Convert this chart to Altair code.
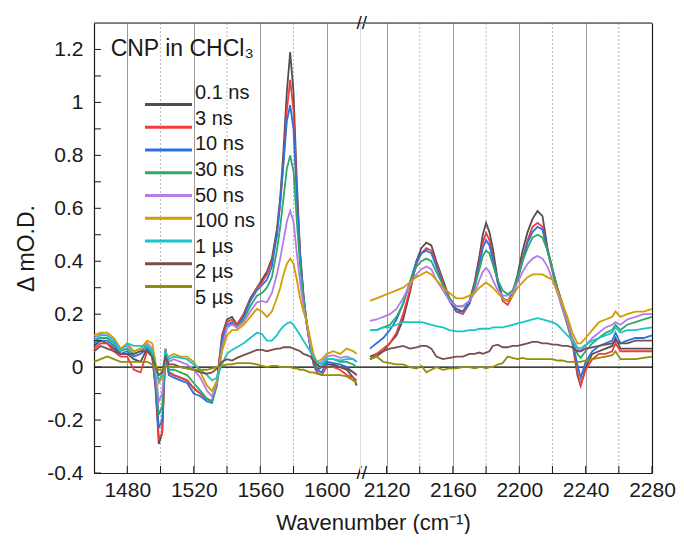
import altair as alt
import pandas as pd

FONT = "Liberation Sans"

SERIES = ["0.1 ns", "3 ns", "10 ns", "30 ns", "50 ns", "100 ns", "1 µs", "2 µs", "5 µs"]
COLORS = ["#505050", "#f03c3c", "#2a72e0", "#2ea866", "#b57be8", "#d39d00", "#17c7c7", "#7b4e4e", "#8f8f0a"]

# ---------------- left panel (1460-1620 cm-1) ----------------
WN_LEFT = [1460, 1464, 1468, 1472, 1476, 1480, 1484, 1488, 1492, 1495,
           1497, 1499, 1501, 1503, 1505, 1508, 1512, 1516, 1520, 1524,
           1528, 1531, 1534, 1537, 1540, 1543, 1546, 1550, 1554, 1558,
           1561, 1564, 1567, 1570, 1572, 1574, 1576, 1578, 1580, 1582,
           1584, 1586, 1588, 1590, 1592, 1594, 1597, 1600, 1604, 1608,
           1612, 1616, 1618]

L_01NS = [0.08, 0.10, 0.09, 0.07, 0.05, 0.05, 0.03, 0.02, 0.07, 0.04,
          -0.08, -0.29, -0.25, 0.07, -0.02, -0.03, -0.04, -0.05, -0.08, -0.10,
          -0.12, -0.13, -0.05, 0.12, 0.18, 0.19, 0.16, 0.20, 0.26, 0.30,
          0.33, 0.36, 0.41, 0.52, 0.64, 0.82, 1.04, 1.19, 1.04, 0.70,
          0.43, 0.27, 0.16, 0.08, 0.02, -0.01, 0.0, 0.01, 0.01, 0.0,
          -0.01, -0.04, -0.07]
L_3NS = [0.07, 0.09, 0.09, 0.06, 0.04, 0.04, -0.01, -0.02, 0.06, 0.04,
         -0.06, -0.27, -0.25, 0.06, -0.02, -0.03, -0.04, -0.05, -0.08, -0.10,
         -0.12, -0.13, -0.05, 0.11, 0.17, 0.18, 0.16, 0.20, 0.25, 0.30,
         0.32, 0.35, 0.40, 0.50, 0.62, 0.78, 0.97, 1.085, 0.97, 0.66,
         0.42, 0.27, 0.16, 0.08, 0.01, -0.02, -0.03, 0.0, 0.0, -0.01,
         -0.03, -0.04, -0.05]
L_10NS = [0.09, 0.10, 0.10, 0.08, 0.05, 0.06, 0.04, 0.05, 0.07, 0.05,
          -0.06, -0.23, -0.20, 0.05, -0.03, -0.04, -0.05, -0.06, -0.10, -0.11,
          -0.13, -0.135, -0.06, 0.10, 0.16, 0.17, 0.15, 0.19, 0.25, 0.29,
          0.31, 0.33, 0.38, 0.50, 0.62, 0.77, 0.93, 0.99, 0.90, 0.64,
          0.42, 0.27, 0.16, 0.08, 0.02, -0.01, -0.02, 0.02, 0.015, 0.01,
          0.0, -0.02, -0.03]
L_30NS = [0.10, 0.11, 0.11, 0.09, 0.06, 0.07, 0.05, 0.06, 0.08, 0.05,
          -0.04, -0.18, -0.15, 0.06, -0.01, -0.01, -0.02, -0.03, -0.06, -0.09,
          -0.12, -0.13, -0.07, 0.08, 0.15, 0.165, 0.15, 0.18, 0.23, 0.27,
          0.28, 0.30, 0.34, 0.44, 0.53, 0.64, 0.75, 0.80, 0.74, 0.55,
          0.38, 0.26, 0.17, 0.09, 0.03, 0.0, 0.0, 0.03, 0.03, 0.02,
          0.02, 0.01, 0.0]
L_50NS = [0.11, 0.125, 0.12, 0.10, 0.07, 0.08, 0.06, 0.07, 0.09, 0.07,
          -0.02, -0.13, -0.10, 0.06, 0.02, 0.03, 0.02, 0.01, -0.01, -0.04,
          -0.09, -0.11, -0.06, 0.07, 0.15, 0.16, 0.15, 0.17, 0.21, 0.245,
          0.25, 0.245, 0.28, 0.35, 0.41, 0.48, 0.55, 0.59, 0.55, 0.43,
          0.32, 0.23, 0.16, 0.09, 0.04, 0.01, 0.02, 0.04, 0.045, 0.035,
          0.04, 0.03, 0.02]
L_100NS = [0.12, 0.13, 0.13, 0.11, 0.07, 0.09, 0.06, 0.07, 0.10, 0.09,
           0.02, -0.06, -0.04, 0.03, 0.04, 0.05, 0.04, 0.04, 0.02, -0.02,
           -0.07, -0.09, -0.05, 0.06, 0.12, 0.14, 0.14, 0.16, 0.19, 0.22,
           0.21, 0.19, 0.21, 0.26, 0.30, 0.35, 0.39, 0.41, 0.39, 0.33,
           0.26, 0.21, 0.17, 0.11, 0.05, 0.02, 0.03, 0.05, 0.06, 0.05,
           0.07, 0.06, 0.05]
L_1US = [0.10, 0.12, 0.12, 0.10, 0.06, 0.09, 0.08, 0.08, 0.08, 0.06,
         0.0, -0.05, -0.03, 0.06, 0.03, 0.04, 0.035, 0.03, 0.01, -0.01,
         -0.03, -0.05, -0.04, 0.01, 0.05, 0.065, 0.075, 0.09, 0.11, 0.13,
         0.125, 0.10, 0.10, 0.12, 0.14, 0.155, 0.165, 0.17, 0.16, 0.14,
         0.12, 0.10, 0.08, 0.06, 0.04, 0.02, 0.01, 0.03, 0.03, 0.025,
         0.03, 0.03, 0.02]
L_2US = [0.06, 0.08, 0.07, 0.06, 0.05, 0.05, 0.05, 0.06, 0.06, 0.04,
         0.0, -0.03, -0.02, 0.04, 0.01, 0.01, 0.0, -0.005, -0.01, -0.02,
         -0.025, -0.02, -0.005, 0.02, 0.03, 0.025, 0.035, 0.045, 0.055, 0.065,
         0.065, 0.06, 0.065, 0.07, 0.07, 0.075, 0.075, 0.075, 0.07, 0.065,
         0.06, 0.05, 0.045, 0.04, 0.025, 0.01, 0.0, 0.0, 0.005, 0.0,
         -0.005, -0.02, -0.03]
L_5US = [0.02, 0.03, 0.04, 0.03, 0.02, 0.02, 0.02, 0.02, 0.02, 0.01,
         0.0, -0.01, -0.01, 0.0, 0.0, 0.0, 0.0, -0.005, -0.01, -0.01,
         -0.01, -0.005, 0.0, 0.005, 0.01, 0.01, 0.015, 0.015, 0.015, 0.01,
         0.005, 0.0, 0.005, 0.005, 0.0, 0.0, 0.0, 0.0, -0.005, -0.005,
         -0.01, -0.01, -0.015, -0.02, -0.02, -0.025, -0.03, -0.03, -0.03, -0.03,
         -0.035, -0.05, -0.06]

# ---------------- right panel (2104-2280 cm-1) ----------------
WN_RIGHT = [2110, 2114, 2118, 2122, 2126, 2130, 2134, 2138, 2141, 2144,
            2147, 2150, 2154, 2158, 2162, 2166, 2170, 2173, 2176, 2178,
            2180, 2182, 2184, 2187, 2190, 2193, 2196, 2199, 2202, 2205,
            2208, 2211, 2214, 2217, 2220, 2223, 2226, 2229, 2232, 2235,
            2237, 2240, 2244, 2248, 2252, 2256, 2258, 2261, 2265, 2270,
            2275, 2280]

R_01NS = [0.04, 0.05, 0.06, 0.09, 0.12, 0.18, 0.28, 0.40, 0.45, 0.47,
          0.46, 0.40, 0.33, 0.26, 0.22, 0.21, 0.25, 0.32, 0.42, 0.50,
          0.545, 0.51, 0.45, 0.33, 0.26, 0.25, 0.28, 0.35, 0.44, 0.51,
          0.56, 0.59, 0.57, 0.45, 0.37, 0.30, 0.24, 0.17, 0.10, -0.03,
          -0.07, 0.0, 0.05, 0.06, 0.07, 0.08, 0.11, 0.07, 0.07, 0.07,
          0.07, 0.07]
R_3NS = [0.03, 0.05, 0.07, 0.09, 0.13, 0.20, 0.29, 0.39, 0.43, 0.45,
         0.44, 0.39, 0.32, 0.25, 0.21, 0.20, 0.24, 0.31, 0.40, 0.47,
         0.507, 0.48, 0.42, 0.32, 0.25, 0.235, 0.27, 0.33, 0.41, 0.48,
         0.53, 0.545, 0.53, 0.44, 0.36, 0.29, 0.23, 0.16, 0.09, -0.02,
         -0.07, -0.01, 0.03, 0.05, 0.05, 0.06, 0.09, 0.06, 0.06, 0.06,
         0.06, 0.06]
R_10NS = [0.07, 0.09, 0.11, 0.14, 0.18, 0.24, 0.32, 0.40, 0.43, 0.44,
          0.43, 0.38, 0.31, 0.25, 0.21, 0.21, 0.24, 0.30, 0.39, 0.45,
          0.48, 0.46, 0.41, 0.32, 0.26, 0.25, 0.27, 0.33, 0.40, 0.47,
          0.51, 0.53, 0.52, 0.44, 0.37, 0.29, 0.23, 0.17, 0.10, 0.01,
          -0.04, 0.02, 0.06, 0.08, 0.09, 0.10, 0.13, 0.09, 0.10, 0.11,
          0.11, 0.12]
R_30NS = [0.14, 0.14, 0.15, 0.16, 0.19, 0.24, 0.32, 0.38, 0.40, 0.41,
          0.40, 0.36, 0.31, 0.26, 0.23, 0.23, 0.25, 0.30, 0.37, 0.42,
          0.44, 0.43, 0.39, 0.33, 0.29, 0.275, 0.29, 0.34, 0.40, 0.45,
          0.49, 0.50, 0.49, 0.44, 0.37, 0.29, 0.22, 0.16, 0.10, 0.05,
          0.035, 0.06, 0.09, 0.11, 0.13, 0.14, 0.16, 0.14, 0.16, 0.17,
          0.18, 0.19]
R_50NS = [0.175, 0.18, 0.19, 0.20, 0.22, 0.26, 0.31, 0.35, 0.37, 0.38,
          0.37, 0.33, 0.29, 0.25, 0.23, 0.23, 0.25, 0.28, 0.33, 0.36,
          0.375, 0.36, 0.33, 0.29, 0.27, 0.27, 0.28, 0.32, 0.36, 0.39,
          0.41, 0.42, 0.41, 0.38, 0.33, 0.28, 0.22, 0.17, 0.11, 0.07,
          0.06, 0.08, 0.11, 0.13, 0.15, 0.16, 0.17, 0.16, 0.18, 0.19,
          0.20, 0.20]
R_100NS = [0.25, 0.26, 0.27, 0.28, 0.29, 0.30, 0.32, 0.34, 0.35, 0.36,
           0.35, 0.33, 0.30, 0.28, 0.26, 0.26, 0.27, 0.28, 0.30, 0.31,
           0.32, 0.31, 0.30, 0.28, 0.26, 0.25, 0.27, 0.30, 0.32, 0.34,
           0.35, 0.35, 0.35, 0.34, 0.33, 0.29, 0.24, 0.19, 0.13, 0.09,
           0.09, 0.11, 0.14, 0.17, 0.18, 0.19, 0.21, 0.19, 0.20, 0.21,
           0.21, 0.22]
R_1US = [0.14, 0.14, 0.15, 0.15, 0.16, 0.17, 0.17, 0.17, 0.17, 0.165,
         0.16, 0.155, 0.15, 0.14, 0.135, 0.135, 0.14, 0.14, 0.145, 0.145,
         0.145, 0.145, 0.15, 0.15, 0.15, 0.155, 0.16, 0.165, 0.17, 0.175,
         0.18, 0.185, 0.18, 0.175, 0.17, 0.16, 0.14, 0.12, 0.10, 0.075,
         0.07, 0.085, 0.10, 0.11, 0.12, 0.13, 0.15, 0.13, 0.14, 0.14,
         0.145, 0.15]
R_2US = [0.03, 0.04, 0.06, 0.07, 0.075, 0.08, 0.07, 0.075, 0.08, 0.08,
         0.07, 0.04, 0.03, 0.035, 0.04, 0.04, 0.05, 0.05, 0.055, 0.05,
         0.055, 0.06, 0.08, 0.085, 0.075, 0.075, 0.08, 0.08, 0.085, 0.09,
         0.095, 0.095, 0.09, 0.09, 0.085, 0.085, 0.08, 0.08, 0.075, 0.06,
         0.06, 0.07, 0.075, 0.08, 0.085, 0.09, 0.10, 0.09, 0.09, 0.10,
         0.10, 0.10]
R_5US = [0.03, 0.04, 0.02, 0.015, 0.01, 0.01, 0.0, -0.005, 0.005, -0.02,
         -0.01, 0.0, -0.01, -0.005, -0.005, 0.0, 0.0, -0.005, 0.0, 0.0,
         -0.005, 0.0, 0.0, 0.01, 0.015, 0.04, 0.035, 0.03, 0.035, 0.03,
         0.03, 0.03, 0.03, 0.03, 0.03, 0.025, 0.025, 0.02, 0.02, 0.02,
         0.02, 0.025, 0.03, 0.035, 0.04, 0.045, 0.06, 0.03, 0.03, 0.03,
         0.035, 0.04]

LEFT_VALUES = [L_01NS, L_3NS, L_10NS, L_30NS, L_50NS, L_100NS, L_1US, L_2US, L_5US]
RIGHT_VALUES = [R_01NS, R_3NS, R_10NS, R_30NS, R_50NS, R_100NS, R_1US, R_2US, R_5US]

LEFT_DOMAIN = [1460, 1620]
RIGHT_DOMAIN = [2104, 2280]
Y_DOMAIN = [-0.4, 1.3]
LEFT_MAJOR = [1480, 1520, 1560, 1600]
LEFT_MINOR = [1500, 1540, 1580]
RIGHT_MAJOR = [2120, 2160, 2200, 2240, 2280]
RIGHT_MINOR = [2140, 2180, 2220, 2260]
Y_MAJOR = [-0.4, -0.2, 0.0, 0.2, 0.4, 0.6, 0.8, 1.0, 1.2]
Y_MINOR = [-0.3, -0.1, 0.1, 0.3, 0.5, 0.7, 0.9, 1.1]
LEGEND_TITLE = "CNP in CHCl₃"
X_TITLE = "Wavenumber (cm⁻¹)"
Y_TITLE = "Δ mO.D."

W_L, W_R, H = 266, 292, 450
INK = "#1a1a1a"


def build(wns, values_list):
    rows = []
    for k, (name, vals) in enumerate(zip(SERIES, values_list)):
        assert len(vals) == len(wns), name
        for i, (w, v) in enumerate(zip(wns, vals)):
            rows.append({"wn": w, "val": v, "series": name, "k": k, "i": i})
    return pd.DataFrame(rows)


df_left = build(WN_LEFT, LEFT_VALUES)
df_right = build(WN_RIGHT, RIGHT_VALUES)

yscale = alt.Scale(domain=Y_DOMAIN, nice=False, zero=False)
cscale = alt.Scale(domain=SERIES, range=COLORS)


def panel(df, domain, width, major, minor, is_left):
    xscale = alt.Scale(domain=domain, nice=False, zero=False)
    x_axis = alt.Axis(
        values=major, grid=True, gridColor="#9a9a9a", gridWidth=1, ticks=False,
        labelFontSize=21, labelColor=INK, labelPadding=6, labelFlush=False,
        domainColor=INK, domainWidth=1.2, format="d",
        title=X_TITLE if is_left else None,
        titleFontSize=22, titleColor=INK, titleFontWeight="normal",
        titleX=(W_L + W_R) / 2 if is_left else 0, titlePadding=12,
    )
    if is_left:
        y_axis = alt.Axis(
            values=Y_MAJOR, grid=False, ticks=False, labelFontSize=21, labelColor=INK,
            labelPadding=11, domainColor=INK, domainWidth=1.2,
            labelExpr="datum.value == 0 ? '0' : replace(format(datum.value, '.1~f'), '\u2212', '-')",
            title=Y_TITLE, titleFontSize=23, titleColor=INK,
            titleFontWeight="normal", titlePadding=8,
        )
    else:
        y_axis = alt.Axis(orient="right", grid=False, ticks=False, labels=False,
                          title=None, domainColor=INK, domainWidth=1.2)

    lines = alt.Chart(df).mark_line(strokeWidth=1.8).encode(
        x=alt.X("wn:Q", scale=xscale, axis=x_axis),
        y=alt.Y("val:Q", scale=yscale, axis=y_axis),
        color=alt.Color("series:N", scale=cscale, sort=SERIES, legend=None),
        detail="k:O",
        order="i:Q",
    )
    minor_grid = alt.Chart(pd.DataFrame({"m": minor})).mark_rule(
        color="#b8b8b8", strokeDash=[2, 2], strokeWidth=1
    ).encode(x=alt.X("m:Q", scale=xscale))
    zero = alt.Chart(pd.DataFrame({"z": [0]})).mark_rule(color="black", strokeWidth=1.3).encode(
        y=alt.Y("z:Q", scale=yscale))
    top = alt.Chart(pd.DataFrame({"t": [Y_DOMAIN[1]]})).mark_rule(color=INK, strokeWidth=1.2).encode(
        y=alt.Y("t:Q", scale=yscale))
    xticks = alt.Chart(pd.DataFrame({"m": major + minor})).mark_rule(color=INK).encode(
        x=alt.X("m:Q", scale=xscale), y=alt.value(H), y2=alt.value(H - 7))
    layers = [minor_grid, zero, top, xticks, lines]
    if not is_left:
        return alt.layer(*layers).properties(width=width, height=H)

    yticks = alt.Chart(pd.DataFrame({"v": Y_MAJOR + Y_MINOR})).mark_rule(color=INK).encode(
        y=alt.Y("v:Q", scale=yscale), x=alt.value(0), x2=alt.value(7))
    title_txt = alt.Chart(pd.DataFrame({"x": [1470], "y": [1.2], "t": [LEGEND_TITLE]})).mark_text(
        align="left", baseline="middle", fontSize=23, font=FONT, color=INK
    ).encode(x=alt.X("x:Q", scale=xscale), y=alt.Y("y:Q", scale=yscale), text="t:N")
    brk = alt.Chart(pd.DataFrame({"x": [1621, 1621], "y": Y_DOMAIN})).mark_text(
        align="center", baseline="middle", fontSize=19, font=FONT, color=INK, clip=False
    ).encode(x=alt.X("x:Q", scale=xscale), y=alt.Y("y:Q", scale=yscale), text=alt.value("//"))
    main = alt.layer(*layers, yticks, title_txt, brk)

    # legend built from the series list
    leg_df = pd.DataFrame({"series": SERIES})
    leg_y = alt.Y("series:N", sort=SERIES, axis=None,
                  scale=alt.Scale(domain=SERIES, range=[70, 275], padding=0))
    leg_lines = alt.Chart(leg_df).mark_rule(strokeWidth=3).encode(
        x=alt.value(51), x2=alt.value(98), y=leg_y,
        color=alt.Color("series:N", scale=cscale, legend=None))
    leg_text = alt.Chart(leg_df).mark_text(
        align="left", baseline="middle", fontSize=20, font=FONT, color=INK
    ).encode(x=alt.value(101), y=leg_y, text="series:N")
    return alt.layer(main, leg_lines, leg_text).resolve_scale(y="independent").properties(
        width=width, height=H)


left = panel(df_left, LEFT_DOMAIN, W_L, LEFT_MAJOR, LEFT_MINOR, True)
right = panel(df_right, RIGHT_DOMAIN, W_R, RIGHT_MAJOR, RIGHT_MINOR, False)

chart = alt.hconcat(left, right, spacing=0, bounds="flush").resolve_scale(
    color="independent", x="independent", y="independent"
).properties(
    padding={"left": 7, "top": 5, "right": 0, "bottom": 0}
).configure_view(stroke=None).configure_axis(
    labelFont=FONT, titleFont=FONT
).configure(background="white")

chart.save("out.html", embed_options={"renderer": "svg", "actions": False})
